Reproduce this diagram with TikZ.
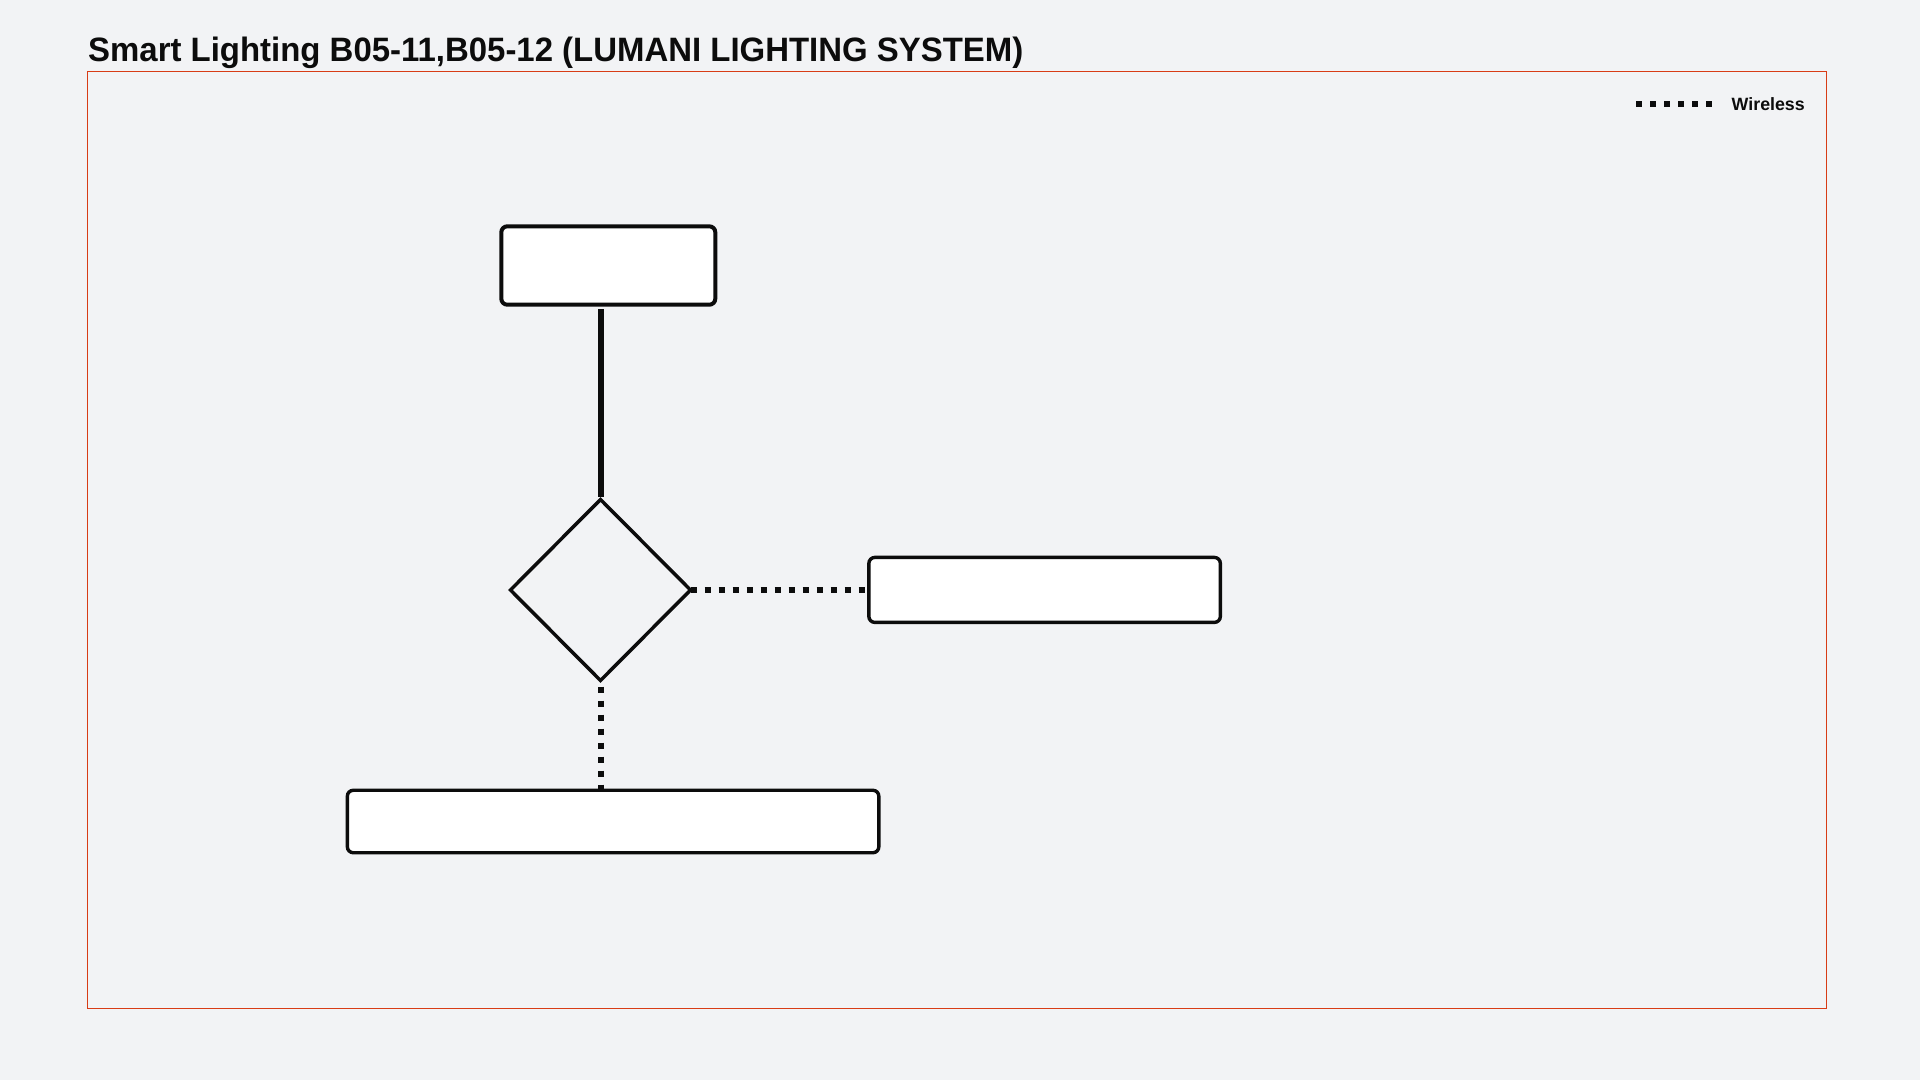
\documentclass[tikz,border=0pt]{standalone}
\usepackage{fontspec}
\usepackage{graphicx}
\setmainfont{Liberation Sans}
\usetikzlibrary{shapes.geometric}
\definecolor{pagebg}{RGB}{242,243,245}
\definecolor{framecol}{RGB}{216,60,22}
\definecolor{ink}{RGB}{12,12,12}
\tikzset{
  boxnode/.style={draw=ink, fill=white, rounded corners=6pt, inner sep=0pt, outer sep=0pt},
  hubnode/.style={draw=ink, fill=pagebg, shape=diamond, inner sep=0pt, outer sep=0pt, line width=3.5pt, minimum width=180pt, minimum height=181pt},
  wired/.style={draw=ink, line width=6pt},
  wireless/.style={draw=ink, line width=6pt, dash pattern=on 6pt off 8pt},
}
\begin{document}
\begin{tikzpicture}[x=1pt,y=-1pt]
\useasboundingbox (0,0) rectangle (1920,1080);
\fill[pagebg] (0,0) rectangle (1920,1080);
\draw[framecol, line width=1pt] (87.5,71.5) rectangle (1826.5,1008.5);
\node[anchor=base west, inner sep=0pt, text=ink] (title) at (88,61.7)
  {\resizebox{935pt}{24.5pt}{\bfseries Smart Lighting B05-11,B05-12 (LUMANI LIGHTING SYSTEM)}};
% legend
\coordinate (lega) at (1636,104.3);
\coordinate (legb) at (1712,104.3);
\draw[wireless] (lega) -- (legb);
\node[anchor=base west, inner sep=0pt, text=ink, font=\fontsize{17.8pt}{21pt}\selectfont\bfseries] (legtxt) at (1731.5,110) {Wireless};
% nodes
\node[boxnode, line width=4pt, minimum width=214pt, minimum height=78.4pt] (top) at (608.3,265.5) {};
\node[hubnode] (hub) at (600.5,590) {};
\node[boxnode, line width=3.4pt, minimum width=351.5pt, minimum height=65pt] (right) at (1044.6,589.9) {};
\node[boxnode, line width=3.4pt, minimum width=531.5pt, minimum height=62.5pt] (bottom) at (613.1,821.5) {};
% connectors
\draw[wired, shorten <=2.7pt, shorten >=4.3pt] (hub.north) -- (hub.north |- top.south);
\draw[wireless] (hub.east) -- (hub.east -| right.west);
\draw[wireless] ([yshift=-6pt]hub.south) -- ([yshift=-6pt]hub.south |- bottom.north);
\end{tikzpicture}
\end{document}
